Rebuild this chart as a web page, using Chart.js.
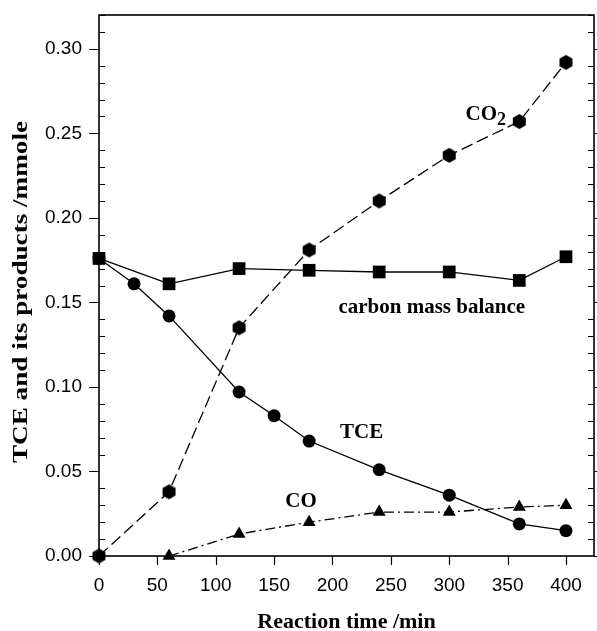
<!DOCTYPE html>
<html>
<head>
<meta charset="utf-8">
<script src="https://cdn.jsdelivr.net/npm/chart.js@4/dist/chart.umd.min.js"></script>
<style>
  html, body { margin: 0; padding: 0; background: #fff; }
  canvas { display: block; }
</style>
</head>
<body>
<canvas id="chart" width="597" height="631"></canvas>
<script>
// data (time in min, amount in mmole)
const tceTime = [0, 30, 60, 120, 150, 180, 240, 300, 360, 400];
const tceValues = [0.176, 0.161, 0.142, 0.097, 0.083, 0.068, 0.051, 0.036, 0.019, 0.015];
const balanceTime = [0, 60, 120, 180, 240, 300, 360, 400];
const balanceValues = [0.176, 0.161, 0.170, 0.169, 0.168, 0.168, 0.163, 0.177];
const co2Time = [0, 60, 120, 180, 240, 300, 360, 400];
const co2Values = [0, 0.038, 0.135, 0.181, 0.210, 0.237, 0.257, 0.292];
const coTime = [60, 120, 180, 240, 300, 360, 400];
const coValues = [0, 0.013, 0.020, 0.026, 0.026, 0.029, 0.030];

// text labels placed in data units: [text, time, value]
const notes = [
  ["TCE", 225, 0.0728],
  ["CO", 173, 0.032],
  ["carbon mass balance", 285, 0.1467],
];
const co2Note = [314, 0.261];

const pts = function (xs, ys) {
  return xs.map((x, i) => ({ x: x, y: ys[i] }));
};

const hexagon = function (r) {
  const c = document.createElement("canvas");
  c.width = c.height = 2 * r + 2;
  const g = c.getContext("2d");
  g.beginPath();
  for (let i = 0; i < 6; i++) {
    const a = (Math.PI / 3) * i - Math.PI / 2;
    g.lineTo(r + 1 + r * Math.cos(a), r + 1 + r * Math.sin(a));
  }
  g.closePath();
  g.fillStyle = "#000";
  g.fill();
  return c;
};

const serif = "'Liberation Serif', 'Times New Roman', serif";

const noPad = function (s) {
  s.paddingTop = 0;
  s.paddingBottom = 0;
  s.paddingLeft = 0;
  s.paddingRight = 0;
};

// frame and tick marks
const frame = {
  id: "frame",
  beforeDatasetsDraw(chart) {
    const { ctx, chartArea: a, scales } = chart;
    const x = scales.x, y = scales.y;
    ctx.save();
    ctx.strokeStyle = "#000";
    ctx.lineWidth = 1.6;
    ctx.strokeRect(a.left, a.top, a.right - a.left, a.bottom - a.top);
    ctx.lineWidth = 1.2;
    ctx.beginPath();
    for (let i = 0; i <= 32; i++) {
      const py = Math.round(y.getPixelForValue(i / 100)) + 0.5;
      if (i % 5 === 0) {
        ctx.moveTo(a.left - 10, py); ctx.lineTo(a.left, py);
        ctx.moveTo(a.right, py); ctx.lineTo(a.right + 10, py);
      } else {
        ctx.moveTo(a.left, py); ctx.lineTo(a.left + 6, py);
        ctx.moveTo(a.right - 6, py); ctx.lineTo(a.right, py);
      }
    }
    for (let t = 0; t <= 400; t += 50) {
      const px = Math.round(x.getPixelForValue(t)) + 0.5;
      ctx.moveTo(px, a.bottom); ctx.lineTo(px, a.bottom + 9);
    }
    ctx.stroke();
    ctx.restore();
  },
  afterDraw(chart) {
    const { ctx, chartArea: a, scales } = chart;
    const x = scales.x, y = scales.y;
    ctx.save();
    ctx.fillStyle = "#000";
    ctx.textAlign = "center";

    // axis titles
    ctx.font = "bold 22px " + serif;
    ctx.textBaseline = "alphabetic";
    ctx.fillText("Reaction time /min", (a.left + a.right) / 2, 628);
    ctx.save();
    ctx.translate(27, 292);
    ctx.rotate(-Math.PI / 2);
    const yTitle = "TCE and its products /mmole";
    const w = ctx.measureText(yTitle).width;
    ctx.scale(342 / w, 1);
    ctx.fillText(yTitle, 0, 0);
    ctx.restore();

    // annotations
    ctx.textBaseline = "middle";
    ctx.font = "bold 21px " + serif;
    notes.forEach(function (n) {
      ctx.fillText(n[0], x.getPixelForValue(n[1]), y.getPixelForValue(n[2]));
    });
    const cx = x.getPixelForValue(co2Note[0]);
    const cy = y.getPixelForValue(co2Note[1]);
    ctx.textAlign = "left";
    ctx.fillText("CO", cx, cy);
    const cw = ctx.measureText("CO").width;
    ctx.font = "bold 18px " + serif;
    ctx.fillText("2", cx + cw, cy + 6);
    ctx.restore();
  },
};

const lineStyle = {
  borderColor: "#000",
  backgroundColor: "#000",
  borderWidth: 1.3,
  tension: 0,
  clip: false,
  pointBorderWidth: 0,
};

const ctx = document.getElementById("chart").getContext("2d");
const chart = new Chart(ctx, {
  type: "line",
  data: {
    datasets: [
      Object.assign({}, lineStyle, {
        label: "CO2",
        data: pts(co2Time, co2Values),
        borderDash: [12, 5],
        pointStyle: hexagon(7.5),
        pointRadius: 7.5,
      }),
      Object.assign({}, lineStyle, {
        label: "CO",
        data: pts(coTime, coValues),
        borderDash: [10, 4, 2, 4],
        pointStyle: "triangle",
        pointRadius: 7.5,
      }),
      Object.assign({}, lineStyle, {
        label: "carbon mass balance",
        data: pts(balanceTime, balanceValues),
        pointStyle: "rect",
        pointRadius: 9,
      }),
      Object.assign({}, lineStyle, {
        label: "TCE",
        data: pts(tceTime, tceValues),
        pointStyle: "circle",
        pointRadius: 6.5,
      }),
    ],
  },
  options: {
    responsive: false,
    animation: false,
    layout: { autoPadding: false, padding: { top: 15, right: 3, left: 0, bottom: 0 } },
    plugins: {
      legend: { display: false },
      tooltip: { enabled: false },
    },
    scales: {
      x: {
        type: "linear",
        min: 0,
        max: 424,
        afterFit(s) { s.height = 75; noPad(s); },
        grid: { display: false, drawTicks: false },
        border: { display: false },
        ticks: {
          stepSize: 50,
          includeBounds: false,
          padding: 18,
          maxRotation: 0,
          color: "#000",
          font: { family: "'Liberation Sans', Arial, sans-serif", size: 19 },
        },
      },
      y: {
        min: 0,
        max: 0.32,
        afterFit(s) { s.width = 99; noPad(s); },
        grid: { display: false, drawTicks: false },
        border: { display: false },
        ticks: {
          stepSize: 0.05,
          includeBounds: false,
          padding: 17,
          color: "#000",
          font: { family: "'Liberation Sans', Arial, sans-serif", size: 19 },
          callback: (v) => v.toFixed(2),
        },
      },
    },
  },
  plugins: [frame],
});
</script>
</body>
</html>
